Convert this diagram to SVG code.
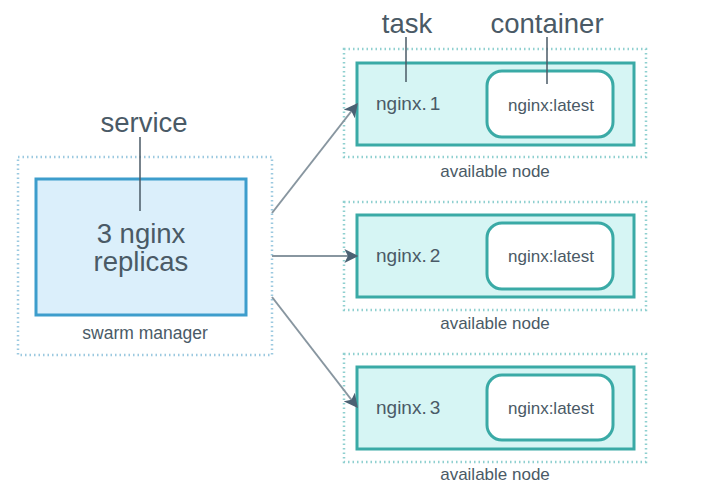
<svg xmlns="http://www.w3.org/2000/svg" width="720" height="493" viewBox="0 0 720 493">
<defs>
<marker id="ah" viewBox="0 0 10 10" refX="9" refY="5" markerWidth="7" markerHeight="7" orient="auto" markerUnits="strokeWidth">
<path d="M0,0 L10,5 L0,10 L2.5,5 z" fill="#4b6173"/>
</marker>
<style>
text{font-family:"Liberation Sans",Arial,sans-serif;fill:#4a5a66}
.dot{fill:none;stroke:#8fd0d0;stroke-width:2.5;stroke-dasharray:1.5 3}
.dotb{fill:none;stroke:#9cc9e0;stroke-width:2.5;stroke-dasharray:1.5 3}
.task{fill:#d6f5f4;stroke:#3aaaa6;stroke-width:3}
.cont{fill:#ffffff;stroke:#3aaaa6;stroke-width:3}
.lead{stroke:#4a5a66;stroke-width:1.5;fill:none}
.conn{stroke:#8896a0;stroke-width:2;fill:none;marker-end:url(#ah)}
.big{font-size:27.5px;text-anchor:middle}
.tl{font-size:19px}
.cl{font-size:17px;text-anchor:middle}
.sm{font-size:17px;text-anchor:middle}
</style>
</defs>
<rect width="720" height="493" fill="#ffffff"/>
<g id="manager">
<rect class="dotb" x="18" y="157" width="254" height="198"/>
<rect x="36" y="179" width="210" height="136" fill="#dbeffb" stroke="#3d9dcc" stroke-width="3"/>
<text x="144" y="132" class="big">service</text>
<line class="lead" x1="140" y1="137" x2="140" y2="211"/>
<text x="141" y="243" font-size="27.5" text-anchor="middle">3 nginx</text>
<text x="141" y="271" font-size="27.5" text-anchor="middle">replicas</text>
<text x="145" y="339" font-size="17.5" text-anchor="middle">swarm manager</text>
</g>
<g id="node1">
<rect class="dot" x="344" y="49" width="302" height="108"/>
<rect class="task" x="357" y="63" width="277" height="82"/>
<rect class="cont" x="487" y="71" width="126" height="66" rx="15"/>
<text x="376" y="110" class="tl">nginx.<tspan dx="3">1</tspan></text>
<text x="551" y="111" class="cl">nginx:latest</text>
<text x="407" y="33" class="big">task</text>
<text x="547" y="33" class="big">container</text>
<line class="lead" x1="406" y1="37" x2="406" y2="82"/>
<line class="lead" x1="547" y1="37" x2="547" y2="84"/>
<text x="495" y="177" class="sm">available node</text>
</g>
<g id="node2">
<rect class="dot" x="344" y="202" width="302" height="108"/>
<rect class="task" x="357" y="215" width="277" height="82"/>
<rect class="cont" x="487" y="223" width="126" height="66" rx="15"/>
<text x="376" y="262" class="tl">nginx.<tspan dx="3">2</tspan></text>
<text x="551" y="262" class="cl">nginx:latest</text>
<text x="495" y="329" class="sm">available node</text>
</g>
<g id="node3">
<rect class="dot" x="344" y="354" width="302" height="108"/>
<rect class="task" x="357" y="367" width="277" height="82"/>
<rect class="cont" x="487" y="375" width="126" height="65" rx="15"/>
<text x="376" y="414" class="tl">nginx.<tspan dx="3">3</tspan></text>
<text x="551" y="414" class="cl">nginx:latest</text>
<text x="495" y="480" class="sm">available node</text>
</g>
<g id="connectors">
<line class="conn" x1="272" y1="213" x2="357" y2="104"/>
<line class="conn" x1="272" y1="256" x2="357" y2="256"/>
<line class="conn" x1="272" y1="297" x2="357" y2="407"/>
</g>
</svg>
